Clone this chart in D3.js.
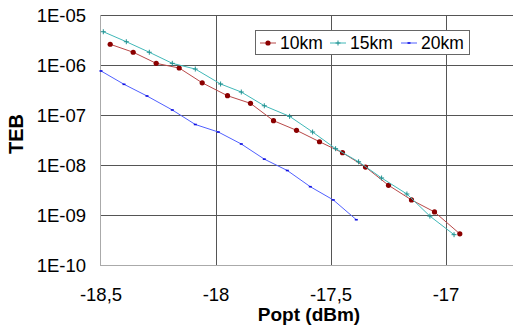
<!DOCTYPE html>
<html><head><meta charset="utf-8">
<script src="https://cdn.jsdelivr.net/npm/d3@7"></script>
<style>body{margin:0;background:#fff}svg{display:block}text{font-family:"Liberation Sans",Arial,sans-serif}</style>
</head><body><svg id="c" width="513" height="326"></svg>
<script>
const seriesNames = ["10km", "15km", "20km"];
const x10 = [-18.46,-18.36,-18.26,-18.16,-18.06,-17.95,-17.85,-17.75,-17.65,-17.55,-17.45,-17.35,-17.25,-17.15,-17.05,-16.94];
const y10 = [2.6e-6,1.8e-6,1.08e-6,8.7e-7,4.4e-7,2.43e-7,1.71e-7,7.7e-8,4.94e-8,2.92e-8,1.76e-8,9.1e-9,3.93e-9,2.0e-9,1.15e-9,4.2e-10];
const x15 = [-18.49,-18.39,-18.29,-18.19,-18.09,-17.98,-17.89,-17.79,-17.68,-17.58,-17.48,-17.38,-17.28,-17.17,-17.07,-16.965];
const y15 = [4.63e-6,2.92e-6,1.8e-6,1.08e-6,8.3e-7,4.17e-7,2.88e-7,1.53e-7,9.4e-8,4.57e-8,2.12e-8,1.16e-8,5.5e-9,2.63e-9,9.5e-10,4.04e-10];
const x20 = [-18.5,-18.4,-18.3,-18.19,-18.09,-17.99,-17.89,-17.79,-17.69,-17.59,-17.49,-17.39];
const y20 = [7.6e-7,4.11e-7,2.4e-7,1.26e-7,6.46e-8,4.57e-8,2.63e-8,1.31e-8,7.76e-9,3.68e-9,2.0e-9,8.05e-10];
const xTicks = [-18.5,-18,-17.5,-17];
const xTickLabels = ["-18,5","-18","-17,5","-17"];
const yTicks = [1e-5,1e-6,1e-7,1e-8,1e-9,1e-10];
const yTickLabels = ["1E-05","1E-06","1E-07","1E-08","1E-09","1E-10"];

const svg = d3.select("#c");
const x = d3.scaleLinear().domain([-18.5,-16.7]).range([101,515]);
const y = d3.scaleLog().domain([1e-10,1e-5]).range([265,15]);

const g = svg.append("g");
g.selectAll(".vg").data(xTicks.slice(1)).join("line")
  .attr("x1",d=>Math.round(x(d))+0.5).attr("x2",d=>Math.round(x(d))+0.5)
  .attr("y1",15).attr("y2",265).attr("stroke","#555").attr("stroke-width",1);
g.selectAll(".hg").data(yTicks.slice(0,5)).join("line")
  .attr("x1",100).attr("x2",513)
  .attr("y1",d=>Math.round(y(d))+0.5).attr("y2",d=>Math.round(y(d))+0.5)
  .attr("stroke","#555").attr("stroke-width",1);
g.append("line").attr("x1",100.5).attr("x2",100.5).attr("y1",15).attr("y2",265.5).attr("stroke","#aaa");
g.append("line").attr("x1",100).attr("x2",513).attr("y1",265.5).attr("y2",265.5).attr("stroke","#aaa");

svg.selectAll(".xt").data(xTicks).join("text")
  .attr("x",d=>x(d)).attr("y",300.5).attr("text-anchor","middle")
  .attr("font-size",18.5).attr("fill","#000").text((d,i)=>xTickLabels[i]);
svg.selectAll(".yt").data(yTicks).join("text")
  .attr("x",86).attr("y",d=>y(d)).attr("dy","0.36em").attr("text-anchor","end")
  .attr("font-size",18.5).attr("fill","#000").text((d,i)=>yTickLabels[i]);
svg.append("text").attr("x",309).attr("y",321).attr("text-anchor","middle")
  .attr("font-size",19).attr("font-weight","bold").text("Popt (dBm)");
svg.append("text").attr("transform","translate(23,134) rotate(-90)").attr("text-anchor","middle")
  .attr("font-size",20).attr("font-weight","bold").text("TEB");

const line = d3.line().x(d=>x(d[0])).y(d=>y(d[1]));
const series = [
  {pts:d3.zip(x10,y10), line:"#b84848", mark:"#8b0000", type:"circle"},
  {pts:d3.zip(x15,y15), line:"#40b8b8", mark:"#209090", type:"plus"},
  {pts:d3.zip(x20,y20), line:"#5060ff", mark:"#1010e0", type:"dash"}
];
function drawMarker(sel, s, cx, cy){
  if(s.type==="circle") sel.append("circle").attr("cx",cx).attr("cy",cy).attr("r",2.6).attr("fill",s.mark);
  else if(s.type==="plus") sel.append("path").attr("d",`M${cx-2.5},${cy}H${cx+2.5}M${cx},${cy-2.5}V${cy+2.5}`).attr("stroke",s.mark).attr("stroke-width",1);
  else sel.append("path").attr("d",`M${cx-1.5},${cy}H${cx+1.5}`).attr("stroke",s.mark).attr("stroke-width",1.6);
}
series.forEach(s=>{
  svg.append("path").attr("d",line(s.pts)).attr("fill","none").attr("stroke",s.line).attr("stroke-width",1);
  const mg = svg.append("g");
  s.pts.forEach(p=>drawMarker(mg,s,x(p[0]),y(p[1])));
});

const lg = svg.append("g");
lg.append("rect").attr("x",255.5).attr("y",30.5).attr("width",214).attr("height",24).attr("fill","#fff").attr("stroke","#666");
const legX = [260, 330, 401];
series.forEach((s,i)=>{
  const lx = legX[i], ly = 43;
  lg.append("line").attr("x1",lx).attr("x2",lx+16).attr("y1",ly).attr("y2",ly).attr("stroke",s.line).attr("stroke-width",1);
  drawMarker(lg,s,lx+8,ly);
  lg.append("text").attr("x",lx+20).attr("y",ly).attr("dy","0.36em").attr("font-size",17.5).text(seriesNames[i]);
});
</script></body></html>
